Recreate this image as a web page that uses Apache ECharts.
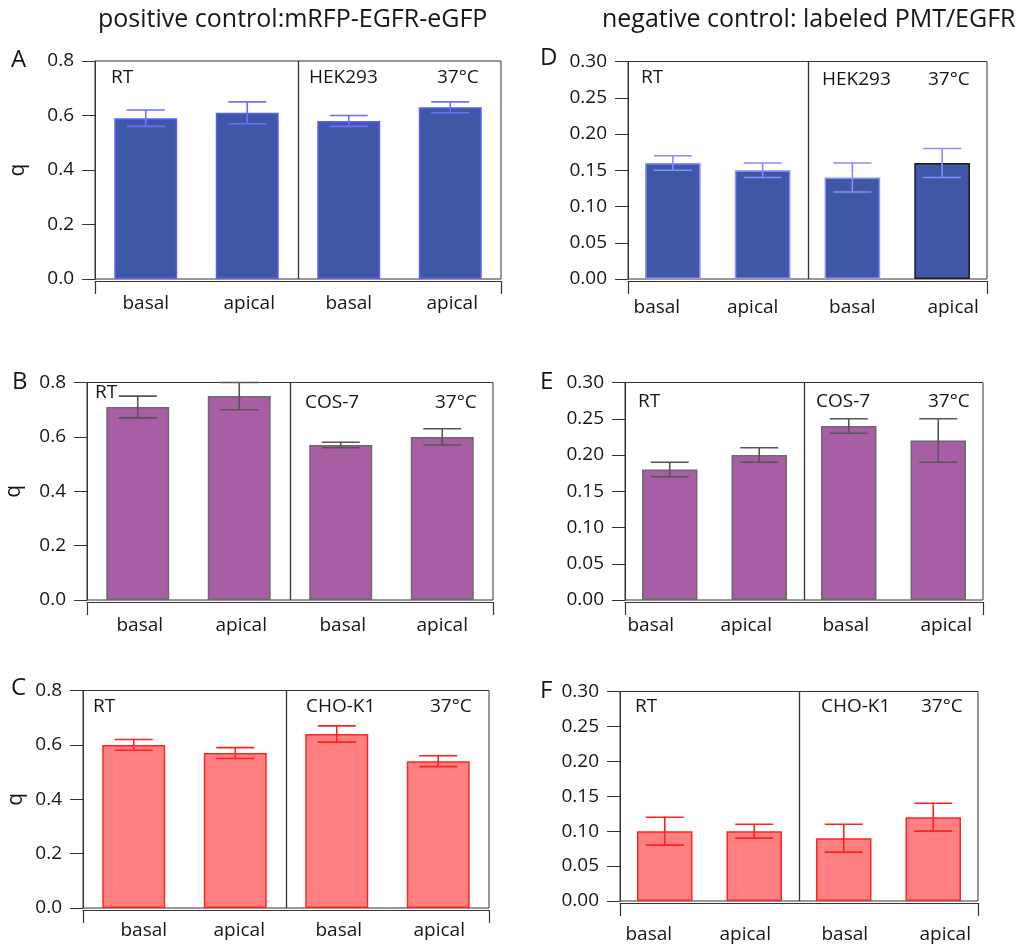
<!DOCTYPE html>
<html>
<head>
<meta charset="utf-8">
<script src="https://cdn.jsdelivr.net/npm/echarts@6/dist/echarts.min.js"></script>
<style>
html,body{margin:0;padding:0;background:#fff;}
#chart{width:1021px;height:944px;}
</style>
</head>
<body>
<div id="chart"></div>
<script>
// ---------- data ----------
const categories = ['basal', 'apical', 'basal', 'apical'];

const valuesA = [0.59, 0.61, 0.58, 0.63];
const errorsA = [0.03, 0.04, 0.02, 0.02];
const valuesB = [0.71, 0.75, 0.57, 0.60];
const errorsB = [0.04, 0.05, 0.01, 0.03];
const valuesC = [0.60, 0.57, 0.64, 0.54];
const errorsC = [0.02, 0.02, 0.03, 0.02];
const valuesD = [0.16, 0.15, 0.14, 0.16];
const errorsD = [0.01, 0.01, 0.02, 0.02];
const valuesE = [0.18, 0.20, 0.24, 0.22];
const errorsE = [0.01, 0.01, 0.01, 0.03];
const valuesF = [0.10, 0.10, 0.09, 0.12];
const errorsF = [0.02, 0.01, 0.02, 0.02];

const leftTicksMax = 0.8, leftTicksStep = 0.2, leftDecimals = 1;
const rightTicksMax = 0.30, rightTicksStep = 0.05, rightDecimals = 2;

const columnTitles = ['positive control:mRFP-EGFR-eGFP', 'negative control: labeled PMT/EGFR'];
const panelLetters = ['A', 'B', 'C', 'D', 'E', 'F'];
const cellLinesLeft = ['HEK293', 'COS-7', 'CHO-K1'];
const roomTempLabel = 'RT';
const warmLabel = '37°C';
const yName = 'q';

// ---------- styles / layout ----------
const FONT = '"Open Sans", "DejaVu Sans", sans-serif';
const TXT = '#161616';
const LINE = '#333333';

const blue = {fill: '#3e58a6', border: '#5c5cff', err: '#6e6eff'};
const blueD = {fill: '#3e58a6', border: '#9090ff', err: '#8a8aff'};
const purple = {fill: '#a85ea5', border: '#6a6a6a', err: '#555555'};
const red = {fill: '#ff8080', border: '#ff2525', err: '#ff2020'};

const panels = [
  {letter: panelLetters[0], values: valuesA, errors: errorsA, left: true, style: blue,
   grid: {left: 95, top: 61, width: 406, height: 218}, lblMargin: 15, lblShift: [0, 2, 0, 2],
   yNameGap: 66, letterPos: [11, 60], txt: [[111, 78], [309, 78], [437, 78]], line: cellLinesLeft[0]},
  {letter: panelLetters[1], values: valuesB, errors: errorsB, left: true, style: purple,
   grid: {left: 87, top: 382.5, width: 406, height: 217.5}, lblMargin: 16, lblShift: [2, 2, 2, 0],
   yNameGap: 62, letterPos: [12, 382], txt: [[95, 393], [305, 403], [435, 403]], line: cellLinesLeft[1]},
  {letter: panelLetters[2], values: valuesC, errors: errorsC, left: true, style: red,
   grid: {left: 83, top: 690.5, width: 406, height: 217.5}, lblMargin: 13, lblShift: [10, 4, 2, 1],
   yNameGap: 56, letterPos: [11, 688], txt: [[93, 707], [306, 707], [430, 707]], line: cellLinesLeft[2]},
  {letter: panelLetters[3], values: valuesD, errors: errorsD, left: false, style: blueD, blackLast: true,
   grid: {left: 628, top: 61.5, width: 359, height: 217.5}, lblMargin: 19, lblShift: [-16, -10, 0, 11],
   letterPos: [540, 58], txt: [[641, 78], [822, 80], [928, 80]], line: cellLinesLeft[0]},
  {letter: panelLetters[4], values: valuesE, errors: errorsE, left: false, style: purple,
   grid: {left: 625, top: 382.5, width: 358, height: 217.5}, lblMargin: 16, lblShift: [-19, -13, -3, 8],
   letterPos: [540, 382], txt: [[638, 402], [816, 402], [928, 402]], line: cellLinesLeft[1]},
  {letter: panelLetters[5], values: valuesF, errors: errorsF, left: false, style: red,
   grid: {left: 620, top: 691.5, width: 358, height: 209.5}, lblMargin: 24, lblShift: [-16, -9, 1, 12],
   letterPos: [540, 691], txt: [[635, 707], [821, 707], [921, 707]], line: cellLinesLeft[2]}
];

const grids = [], xAxes = [], yAxes = [], series = [], graphics = [];

panels.forEach((p, i) => {
  grids.push(Object.assign({show: true, borderColor: LINE, borderWidth: 1, containLabel: false}, p.grid));

  const shifts = p.lblShift;
  const rich = {};
  shifts.forEach((s, k) => {
    rich['p' + k] = {
      fontSize: 19, fontFamily: FONT, color: TXT,
      padding: s >= 0 ? [0, 0, 0, 2 * s] : [0, -2 * s, 0, 0]
    };
  });

  // category axis (labels only)
  xAxes.push({
    type: 'category', gridIndex: i, data: categories, position: 'bottom',
    axisLine: {show: false}, axisTick: {show: false}, splitLine: {show: false},
    axisLabel: {
      margin: p.lblMargin, interval: 0,
      formatter: (v, idx) => '{p' + idx + '|' + v + '}',
      rich: rich
    }
  });
  // bottom line with end ticks
  xAxes.push({
    type: 'value', gridIndex: i, position: 'bottom', offset: 2, min: 0, max: 1, interval: 1,
    axisLine: {show: true, onZero: false, lineStyle: {color: LINE, width: 1}},
    axisTick: {show: true, length: 13, lineStyle: {color: LINE, width: 1.2}},
    axisLabel: {show: false}, splitLine: {show: false}
  });

  const max = p.left ? leftTicksMax : rightTicksMax;
  const step = p.left ? leftTicksStep : rightTicksStep;
  const dec = p.left ? leftDecimals : rightDecimals;
  yAxes.push({
    type: 'value', gridIndex: i, min: 0, max: max, interval: step,
    name: p.left ? yName : '', nameLocation: 'middle', nameRotate: 90, nameGap: p.yNameGap || 50,
    nameTextStyle: {fontSize: 21, fontFamily: FONT, color: TXT},
    axisLine: {show: true, lineStyle: {color: LINE, width: 1}},
    axisTick: {show: true, length: 13, lineStyle: {color: LINE, width: 1}},
    axisLabel: {margin: 21, fontSize: 19, fontFamily: FONT, color: TXT,
      formatter: v => v.toFixed(dec)},
    splitLine: {show: false}
  });

  const xIdx = i * 2;
  series.push({
    type: 'bar', xAxisIndex: xIdx, yAxisIndex: i, barWidth: '62%',
    data: p.values.map((v, k) => {
      const item = {value: v};
      if (p.blackLast && k === p.values.length - 1) item.itemStyle = {borderColor: '#1a1a1a'};
      return item;
    }),
    itemStyle: {color: p.style.fill, borderColor: p.style.border, borderWidth: 1.5},
    emphasis: {disabled: true}, animation: false, z: 2
  });

  series.push({
    type: 'custom', xAxisIndex: xIdx, yAxisIndex: i, z: 5, animation: false, silent: true,
    data: p.values.map((v, k) => [k, v - p.errors[k], v + p.errors[k]]),
    renderItem: (params, api) => {
      const hi = api.coord([api.value(0), api.value(2)]);
      const lo = api.coord([api.value(0), api.value(1)]);
      const hw = 19;
      const st = {stroke: p.style.err, lineWidth: 1.6};
      return {type: 'group', children: [
        {type: 'line', shape: {x1: hi[0], y1: hi[1], x2: lo[0], y2: lo[1]}, style: st},
        {type: 'line', shape: {x1: hi[0] - hw, y1: hi[1], x2: hi[0] + hw, y2: hi[1]}, style: st},
        {type: 'line', shape: {x1: lo[0] - hw, y1: lo[1], x2: lo[0] + hw, y2: lo[1]}, style: st}
      ]};
    }
  });

  // divider between RT and 37°C groups
  series.push({
    type: 'custom', xAxisIndex: xIdx, yAxisIndex: i, z: 6, animation: false, silent: true,
    data: [[0]],
    renderItem: (params, api) => {
      const a = api.coord([1, 0]);
      const b = api.coord([2, 0]);
      const cs = params.coordSys;
      const x = Math.round((a[0] + b[0]) / 2) + 0.5;
      return {type: 'line', shape: {x1: x, y1: cs.y, x2: x, y2: cs.y + cs.height},
        style: {stroke: LINE, lineWidth: 1.3}};
    }
  });

  graphics.push({type: 'text', x: p.letterPos[0], y: p.letterPos[1],
    style: {text: p.letter, font: '24px ' + FONT, fill: TXT, verticalAlign: 'middle'}});
  const labels = [roomTempLabel, p.line, warmLabel];
  labels.forEach((t, k) => {
    graphics.push({type: 'text', x: p.txt[k][0], y: p.txt[k][1],
      style: {text: t, font: '19px ' + FONT, fill: TXT, verticalAlign: 'middle'}});
  });
});

graphics.push({type: 'text', x: 98, y: 20,
  style: {text: columnTitles[0], font: '25px ' + FONT, fill: TXT, verticalAlign: 'middle'}});
graphics.push({type: 'text', x: 602, y: 20,
  style: {text: columnTitles[1], font: '25px ' + FONT, fill: TXT, verticalAlign: 'middle'}});

const chart = echarts.init(document.getElementById('chart'), null, {renderer: 'canvas'});
chart.setOption({
  backgroundColor: '#ffffff',
  animation: false,
  grid: grids,
  xAxis: xAxes,
  yAxis: yAxes,
  series: series,
  graphic: graphics
});
</script>
</body>
</html>
